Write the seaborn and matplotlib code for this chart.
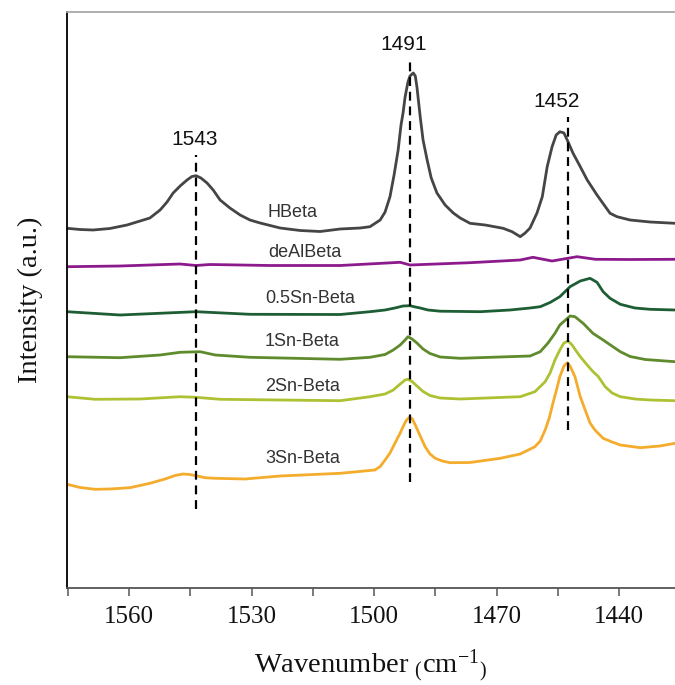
import numpy as np
import pandas as pd
import matplotlib
matplotlib.use("Agg")
import matplotlib.pyplot as plt
from matplotlib.ticker import MultipleLocator
import seaborn as sns

# ---------------- data ----------------
samples = ["HBeta", "deAlBeta", "0.5Sn-Beta", "1Sn-Beta", "2Sn-Beta", "3Sn-Beta"]

hbeta_wn = [1575.2, 1572.0, 1568.8, 1564.7, 1560.5, 1557.3, 1554.9, 1552.4, 1550.7, 1549.2,
            1547.5, 1545.8, 1544.6, 1543.6, 1542.4, 1540.9, 1539.4, 1537.7, 1535.3, 1532.8,
            1530.4, 1527.9, 1523.0, 1518.1, 1513.2, 1508.3, 1503.4, 1501.0, 1498.5, 1497.3,
            1496.1, 1495.1, 1494.1, 1493.4, 1492.9, 1492.4, 1491.7, 1491.2, 1490.4, 1489.9,
            1489.5, 1488.7, 1488.0, 1487.0, 1486.0, 1484.6, 1482.6, 1480.6, 1478.9, 1476.5,
            1472.8, 1468.4, 1466.2, 1464.2, 1463.0, 1461.8, 1460.1, 1458.8, 1457.6, 1456.4,
            1455.4, 1454.5, 1453.5, 1452.5, 1451.3, 1449.5, 1447.8, 1445.4, 1442.2, 1440.5,
            1437.3, 1432.4, 1426.3]
hbeta_int = [359.7, 358.5, 358.0, 359.5, 363.0, 367.0, 370.0, 378.0, 386.0, 395.0,
             402.0, 408.0, 411.5, 412.3, 410.0, 405.0, 398.0, 388.0, 380.0, 373.0,
             368.0, 365.0, 360.0, 357.5, 356.5, 359.0, 360.0, 361.3, 368.0, 376.0,
             391.3, 413.0, 438.0, 463.0, 475.0, 491.0, 506.0, 512.0, 515.0, 512.0,
             501.0, 471.3, 448.0, 428.0, 410.0, 395.0, 383.0, 375.0, 370.0, 364.7,
             363.0, 359.7, 356.3, 351.3, 355.0, 360.0, 375.0, 391.3, 421.3, 441.3,
             453.0, 456.3, 455.0, 446.3, 435.0, 421.3, 408.0, 393.0, 374.7, 371.3,
             368.0, 366.0, 364.7]

dealbeta_wn = [1575.2, 1562.2, 1547.5, 1543.6, 1540.2, 1525.5, 1508.3, 1493.6, 1491.2, 1476.5,
               1464.2, 1461.1, 1456.4, 1450.3, 1445.8, 1437.0, 1426.3]
dealbeta_int = [321.3, 322.0, 324.0, 322.5, 323.5, 322.5, 322.5, 325.7, 323.0, 325.3,
                328.0, 330.7, 327.0, 331.3, 328.7, 328.5, 328.7]

sn05_wn = [1575.2, 1562.2, 1543.6, 1530.4, 1508.3, 1501.0, 1497.3, 1494.9, 1492.9, 1491.2,
           1489.9, 1488.7, 1486.8, 1483.8, 1474.0, 1466.7, 1461.8, 1459.3, 1456.9, 1454.5,
           1452.0, 1449.5, 1447.1, 1445.4, 1443.9, 1442.2, 1439.7, 1436.1, 1432.4, 1426.3]
sn05_int = [276.3, 273.0, 276.3, 273.7, 273.5, 276.3, 278.0, 280.0, 282.0, 282.3,
            281.0, 280.0, 278.0, 276.8, 276.3, 278.0, 280.0, 281.3, 285.5, 291.3,
            301.3, 307.0, 309.7, 305.7, 296.3, 289.7, 283.7, 280.0, 278.7, 278.0]

sn1_wn = [1575.2, 1562.2, 1552.4, 1547.5, 1542.6, 1538.9, 1530.4, 1508.3, 1501.0, 1497.3,
          1495.3, 1493.6, 1492.4, 1491.7, 1490.7, 1489.5, 1488.0, 1486.3, 1483.8, 1478.9,
          1461.8, 1459.3, 1457.4, 1455.7, 1454.5, 1452.0, 1450.8, 1448.8, 1446.4, 1443.9,
          1441.5, 1439.7, 1437.3, 1433.6, 1426.3]
sn1_int = [231.3, 230.3, 233.0, 235.7, 236.3, 233.0, 230.7, 228.7, 230.7, 233.5,
           238.0, 243.0, 248.0, 251.3, 249.0, 245.0, 239.0, 234.5, 231.0, 229.7,
           232.0, 236.3, 245.0, 254.7, 263.0, 272.0, 271.3, 264.7, 254.7, 248.0,
           241.3, 236.3, 231.5, 228.5, 226.3]

sn2_wn = [1575.2, 1568.3, 1557.3, 1547.5, 1543.6, 1537.7, 1508.3, 1501.0, 1497.3, 1495.3,
          1493.6, 1492.4, 1491.7, 1490.7, 1489.5, 1488.0, 1486.3, 1483.8, 1478.9, 1464.2,
          1460.6, 1458.1, 1456.9, 1455.7, 1454.5, 1453.5, 1452.5, 1451.5, 1450.5, 1449.5,
          1447.8, 1446.4, 1445.1, 1443.4, 1441.7, 1439.7, 1436.1, 1432.4, 1426.3]
sn2_int = [191.3, 188.7, 189.0, 191.3, 190.7, 188.7, 187.3, 191.3, 194.0, 198.0,
           204.0, 208.0, 208.7, 206.5, 202.0, 196.5, 192.5, 190.0, 189.0, 191.3,
           196.3, 206.3, 215.0, 228.0, 238.0, 245.0, 247.0, 243.0, 237.0, 231.3,
           223.0, 216.5, 211.5, 201.3, 195.0, 191.3, 189.0, 188.0, 187.3]

sn3_wn = [1575.2, 1572.0, 1568.3, 1564.7, 1559.8, 1554.9, 1551.2, 1548.7, 1546.8, 1545.1,
          1543.6, 1541.4, 1538.9, 1531.6, 1523.0, 1508.3, 1499.8, 1498.5, 1497.3, 1496.1,
          1494.9, 1493.6, 1492.9, 1492.2, 1491.4, 1490.7, 1489.9, 1488.7, 1487.5, 1486.3,
          1485.0, 1483.3, 1481.4, 1476.5, 1469.1, 1464.2, 1460.6, 1459.3, 1458.1, 1457.1,
          1456.2, 1455.2, 1454.5, 1453.5, 1452.7, 1452.0, 1450.8, 1449.5, 1448.3, 1447.1,
          1445.9, 1444.7, 1443.9, 1441.7, 1439.7, 1434.8, 1430.0, 1426.3]
sn3_int = [103.7, 100.5, 98.7, 99.0, 100.3, 104.7, 109.0, 112.5, 114.0, 113.5,
           112.3, 110.3, 109.7, 109.0, 112.0, 114.7, 118.0, 121.5, 128.0, 135.0,
           144.7, 155.0, 161.3, 167.0, 170.7, 169.5, 163.0, 152.0, 141.3, 134.0,
           129.7, 127.0, 125.3, 125.5, 129.7, 134.0, 141.3, 147.0, 158.0, 170.0,
           184.7, 200.0, 211.3, 222.0, 225.3, 222.0, 211.3, 191.3, 178.0, 165.0,
           158.0, 153.0, 149.7, 146.0, 143.0, 140.3, 142.0, 144.7]

peak_labels = ["1543", "1491", "1452"]
peak_line_x = [1543.6, 1491.3, 1452.4]
peak_line_top = [433, 528, 471]
peak_line_bottom = [79, 106, 158]
peak_label_x = [1544.0, 1492.8, 1455.2]
peak_label_y = [443, 538, 481]

label_x = [1526.0, 1526.0, 1526.7, 1526.7, 1526.7, 1526.7]
label_y = [371.3, 331.3, 284.7, 242.0, 197.3, 124.7]

colors = ["#454545", "#8C1A8C", "#1E5E34", "#5F8B2D", "#AEC133", "#F4AC2C"]

xticks = [1560, 1530, 1500, 1470, 1440]

# ---------------- build long table ----------------
series = [(hbeta_wn, hbeta_int), (dealbeta_wn, dealbeta_int), (sn05_wn, sn05_int),
          (sn1_wn, sn1_int), (sn2_wn, sn2_int), (sn3_wn, sn3_int)]
frames = []
for name, (wn, it) in zip(samples, series):
    frames.append(pd.DataFrame({"wn": wn, "intensity": it, "sample": name}))
df = pd.concat(frames, ignore_index=True)

# ---------------- plot ----------------
sns.set_theme(style="white")
plt.rcParams["font.family"] = ["Liberation Serif", "DejaVu Serif"]
plt.rcParams["mathtext.fontset"] = "custom"
plt.rcParams["mathtext.rm"] = "Liberation Serif"

fig = plt.figure(figsize=(6.75, 6.85), dpi=100)
ax = fig.add_axes([67 / 675, (685 - 588) / 685, 1 - 67 / 675, 576 / 685])

sns.lineplot(data=df, x="wn", y="intensity", hue="sample", hue_order=samples,
             palette=dict(zip(samples, colors)), legend=False, linewidth=2.0,
             estimator=None, ax=ax)
for ln in ax.get_lines():
    ln.set_solid_joinstyle("round")
    ln.set_solid_capstyle("round")

# dashed reference lines
for xv, yt, yb in zip(peak_line_x, peak_line_top, peak_line_bottom):
    ax.plot([xv, xv], [yb, yt], color="black", linestyle=(0, (4, 2.6)), linewidth=1.6)

for txt, xv, yv in zip(peak_labels, peak_label_x, peak_label_y):
    ax.text(xv, yv, txt, ha="center", va="baseline", fontsize=15,
            family=["Liberation Sans", "DejaVu Sans"], color="#111111")

for txt, xv, yv in zip(samples, label_x, label_y):
    ax.text(xv, yv, txt, ha="left", va="baseline", fontsize=13,
            family=["Liberation Sans", "DejaVu Sans"], color="#333333")

ax.set_xlim(1575.2, 1426.3)
ax.set_ylim(0, 576)
ax.set_xticks(xticks)
ax.set_xticklabels([str(t) for t in xticks])
ax.xaxis.set_minor_locator(MultipleLocator(15))
ax.set_yticks([])

ax.tick_params(axis="x", which="both", direction="out", length=6, width=1.1,
               color="#555555", bottom=True, top=False, labelsize=18, pad=7,
               labelcolor="#111111")

ax.set_xlabel(r"Wavenumber $\mathrm{{}_{(}cm^{-1}{}_{)}}$", fontsize=20.5, labelpad=14,
              color="#111111")
ax.set_ylabel("Intensity (a.u.)", fontsize=20.5, labelpad=17, color="#111111")

for side in ["left", "bottom", "top", "right"]:
    ax.spines[side].set_linewidth(1.3)
ax.spines["left"].set_color("black")
ax.spines["bottom"].set_color("#555555")
ax.spines["top"].set_color("#A8A8A8")
ax.spines["right"].set_visible(False)

fig.savefig("out.png", dpi=100)
